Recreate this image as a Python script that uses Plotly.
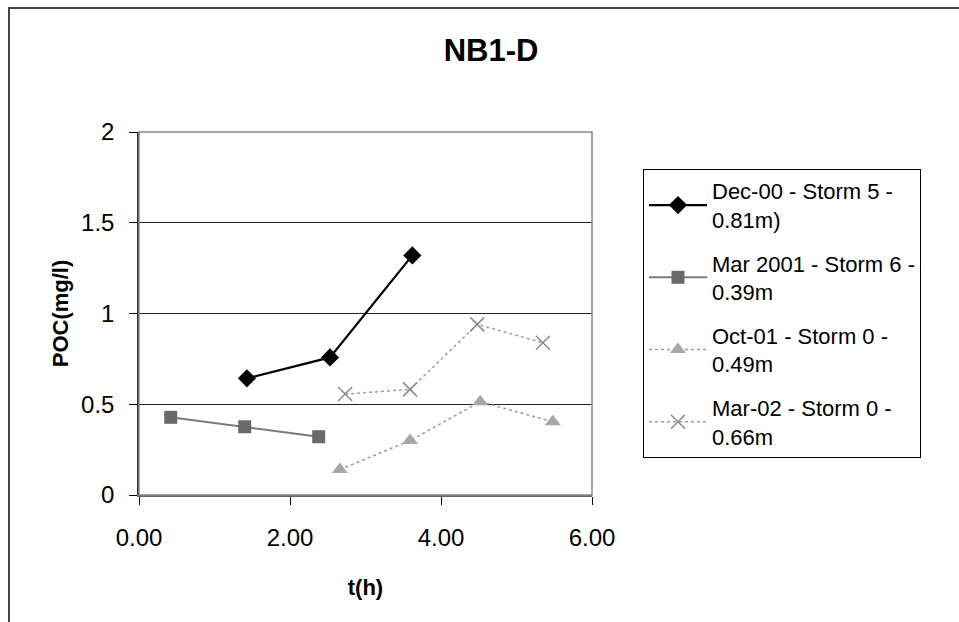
import plotly.graph_objects as go

# ---- data ----
dec00_t = [1.43, 2.53, 3.62]
dec00_poc = [0.643, 0.758, 1.32]

mar01_t = [0.42, 1.40, 2.38]
mar01_poc = [0.428, 0.376, 0.321]

oct01_t = [2.66, 3.59, 4.52, 5.48]
oct01_poc = [0.14, 0.30, 0.514, 0.404]

mar02_t = [2.73, 3.59, 4.48, 5.35]
mar02_poc = [0.556, 0.582, 0.94, 0.839]

series_names = [
    "Dec-00 - Storm 5 -<br>0.81m)",
    "Mar 2001 - Storm 6 -<br>0.39m",
    "Oct-01 - Storm 0 -<br>0.49m",
    "Mar-02 - Storm 0 -<br>0.66m",
]
y_ticks = [0, 0.5, 1, 1.5, 2]
y_tick_labels = ["0", "0.5", "1", "1.5", "2"]
x_ticks = [0, 2, 4, 6]
x_tick_labels = ["0.00", "2.00", "4.00", "6.00"]

FONT = "Liberation Sans, Arial, sans-serif"

fig = go.Figure()
fig.add_trace(go.Scatter(
    x=dec00_t, y=dec00_poc, name=series_names[0], mode="lines+markers",
    legendgroup="g1",
    line=dict(color="#000000", width=2.2),
    marker=dict(symbol="diamond", size=14, color="#000000"),
))
fig.add_trace(go.Scatter(
    x=mar01_t, y=mar01_poc, name=series_names[1], mode="lines+markers",
    legendgroup="g2",
    line=dict(color="#7a7a7a", width=2),
    marker=dict(symbol="square", size=13, color="#6a6a6a"),
))
fig.add_trace(go.Scatter(
    x=oct01_t, y=oct01_poc, name=series_names[2], mode="lines+markers",
    legendgroup="g3",
    line=dict(color="#9a9a9a", width=1.5, dash="dot"),
    marker=dict(symbol="triangle-up", size=14, color="#a8a8a8"),
))
fig.add_trace(go.Scatter(
    x=mar02_t, y=mar02_poc, name=series_names[3], mode="lines+markers",
    legendgroup="g4",
    line=dict(color="#a0a0a0", width=1.5, dash="dot"),
    marker=dict(symbol="x-thin-open", size=14, color="#8a8a8a",
                line=dict(width=1.5, color="#8a8a8a")),
))

W, H = 959, 622
L, R, T, B = 139, 592, 132, 495

fig.update_layout(
    width=W, height=H,
    margin=dict(l=L, r=W - R, t=T, b=H - B, autoexpand=False),
    paper_bgcolor="white", plot_bgcolor="white",
    font=dict(family=FONT, color="#000000", size=22),
    title=dict(text="<b>NB1-D</b>", x=(491 - L) / (R - L), xref="paper",
               xanchor="center", y=1 - 50 / H, yref="container",
               yanchor="middle", font=dict(size=31, family=FONT)),
    showlegend=True,
    legend=dict(x=(643 - L) / (R - L), xanchor="left",
                y=(B - 169) / (B - T), yanchor="top",
                bordercolor="#000000", borderwidth=1, bgcolor="white",
                font=dict(size=22, family=FONT), traceorder="grouped",
                tracegroupgap=12, itemwidth=58),
    xaxis=dict(range=[0, 6], tickvals=x_ticks, ticktext=x_tick_labels,
               showgrid=False, zeroline=False, ticks="outside", ticklen=8,
               tickcolor="#000000", showline=True, linecolor="#666666",
               linewidth=1.5, tickfont=dict(size=24), ticklabelstandoff=12,
               title=dict(text="<b>t(h)</b>", font=dict(size=22), standoff=30)),
    yaxis=dict(range=[0, 2], tickvals=y_ticks, ticktext=y_tick_labels,
               showgrid=True, gridcolor="#222222", gridwidth=1, zeroline=False,
               ticks="outside", ticklen=8, tickcolor="#000000",
               showline=True, linecolor="#333333", linewidth=1.5,
               tickfont=dict(size=24), ticklabelstandoff=10,
               title=dict(text="<b>POC(mg/l)</b>", font=dict(size=22), standoff=6)),
    shapes=[
        dict(type="rect", xref="paper", yref="paper", x0=0, x1=1, y0=0, y1=1,
             line=dict(color="#888888", width=1.5), layer="above"),
        dict(type="rect", xref="paper", yref="paper",
             x0=(9 - L) / (R - L), x1=(975 - L) / (R - L),
             y0=(B - 640) / (B - T), y1=(B - 8) / (B - T),
             line=dict(color="#444444", width=2)),
    ],
)

fig.write_html("out.html", config={"displayModeBar": False},
               post_script="document.body.style.margin='0';")
